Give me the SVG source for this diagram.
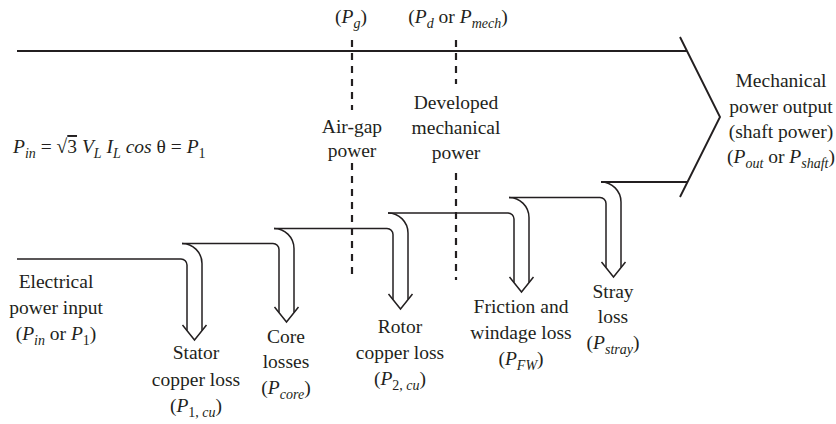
<svg xmlns="http://www.w3.org/2000/svg" width="836" height="424" viewBox="0 0 836 424">
<style>
.t{font-family:"Liberation Serif","Times New Roman",serif;font-size:19.5px;fill:#231f20;text-anchor:middle}
.l{text-anchor:start}
.i{font-style:italic}
.s{font-size:14px}
.ln{fill:none;stroke:#231f20;stroke-width:1.5}
.th{stroke-width:1.9}
.ds{fill:none;stroke:#231f20;stroke-width:2.2;stroke-dasharray:7 6}
</style>
<rect width="836" height="424" fill="#fff"/>
<g id="connectors">
  <path class="ln th" d="M17,51 H687"/>
  <path class="ln th" d="M680,37 L720,117 L680,197"/>
  <path class="ds" d="M352,40 V110 M352,163 V280"/>
  <path class="ds" d="M456,40 V84 M456,173 V280"/>
  <!-- stator -->
  <path class="ln" d="M17,259 H181 A6,6 0 0 1 187,265 V330.6"/>
  <path class="ln" d="M182,243.5 A20,20 0 0 1 202,263.5 V330.6"/>
  <path class="ln" d="M182.5,325 L194.5,340 L206.5,325"/>
  <!-- core -->
  <path class="ln" d="M182,243.5 H273 A6,6 0 0 1 279,249.5 V312.6"/>
  <path class="ln" d="M274,228.5 A20,20 0 0 1 294,248.5 V312.6"/>
  <path class="ln" d="M274.5,307 L286.5,322 L298.5,307"/>
  <!-- rotor -->
  <path class="ln" d="M274,228.5 H387 A6,6 0 0 1 393,234.5 V299.6"/>
  <path class="ln" d="M388,213 A20,20 0 0 1 408,233 V299.6"/>
  <path class="ln" d="M388.5,294 L400.5,309 L412.5,294"/>
  <!-- friction -->
  <path class="ln" d="M388,213 H508 A6,6 0 0 1 514,219 V282.6"/>
  <path class="ln" d="M509,197.5 A20,20 0 0 1 529,217.5 V282.6"/>
  <path class="ln" d="M509.5,277 L521.5,292 L533.5,277"/>
  <!-- stray -->
  <path class="ln" d="M509,197.5 H600 A6,6 0 0 1 606,203.5 V267.6"/>
  <path class="ln" d="M601,182 A20,20 0 0 1 621,202 V267.6"/>
  <path class="ln" d="M601.5,262 L613.5,277 L625.5,262"/>
  <path class="ln th" d="M601,182 H687.5"/>
</g>
<g id="pg"><text class="t" x="351" y="23">(<tspan class="i">P</tspan><tspan class="i s" dy="5">g</tspan><tspan dy="-5">)</tspan></text></g>
<g id="pd"><text class="t" x="458" y="23">(<tspan class="i">P</tspan><tspan class="i s" dy="5">d</tspan><tspan dy="-5"> or </tspan><tspan class="i">P</tspan><tspan class="i s" dy="5">mech</tspan><tspan dy="-5">)</tspan></text></g>
<g id="airgap"><text class="t" x="352" y="133">Air-gap</text><text class="t" x="352" y="157">power</text></g>
<g id="developed"><text class="t" x="456" y="109">Developed</text><text class="t" x="456" y="134">mechanical</text><text class="t" x="456" y="159">power</text></g>
<g id="output"><text class="t" x="781" y="87">Mechanical</text><text class="t" x="781" y="113">power output</text><text class="t" x="781" y="138">(shaft power)</text><text class="t" x="781" y="163">(<tspan class="i">P</tspan><tspan class="i s" dy="5">out</tspan><tspan dy="-5"> or </tspan><tspan class="i">P</tspan><tspan class="i s" dy="5">shaft</tspan><tspan dy="-5">)</tspan></text></g>
<g id="formula"><text class="t l" x="13" y="153"><tspan class="i">P</tspan><tspan class="i s" dy="5">in</tspan><tspan dy="-5"> = √</tspan><tspan text-decoration="overline">3</tspan><tspan> </tspan><tspan class="i">V</tspan><tspan class="i s" dy="5">L</tspan><tspan dy="-5"> </tspan><tspan class="i">I</tspan><tspan class="i s" dy="5">L</tspan><tspan class="i" dy="-5"> cos</tspan><tspan> θ = </tspan><tspan class="i">P</tspan><tspan class="s" dy="5">1</tspan></text></g>
<g id="input"><text class="t" x="56" y="288">Electrical</text><text class="t" x="56" y="314">power input</text><text class="t" x="56" y="340">(<tspan class="i">P</tspan><tspan class="i s" dy="5">in</tspan><tspan dy="-5"> or </tspan><tspan class="i">P</tspan><tspan class="s" dy="5">1</tspan><tspan dy="-5">)</tspan></text></g>
<g id="stator"><text class="t" x="196" y="359">Stator</text><text class="t" x="196" y="386">copper loss</text><text class="t" x="196" y="412">(<tspan class="i">P</tspan><tspan class="s" dy="5">1, </tspan><tspan class="i s">cu</tspan><tspan dy="-5">)</tspan></text></g>
<g id="core"><text class="t" x="286" y="343">Core</text><text class="t" x="286" y="368">losses</text><text class="t" x="286" y="394">(<tspan class="i">P</tspan><tspan class="i s" dy="5">core</tspan><tspan dy="-5">)</tspan></text></g>
<g id="rotor"><text class="t" x="400" y="333">Rotor</text><text class="t" x="400" y="359">copper loss</text><text class="t" x="400" y="385">(<tspan class="i">P</tspan><tspan class="s" dy="5">2, </tspan><tspan class="i s">cu</tspan><tspan dy="-5">)</tspan></text></g>
<g id="friction"><text class="t" x="521" y="313">Friction and</text><text class="t" x="521" y="339">windage loss</text><text class="t" x="521" y="365">(<tspan class="i">P</tspan><tspan class="i s" dy="5">FW</tspan><tspan dy="-5">)</tspan></text></g>
<g id="stray"><text class="t" x="613" y="298">Stray</text><text class="t" x="613" y="323">loss</text><text class="t" x="613" y="349">(<tspan class="i">P</tspan><tspan class="i s" dy="5">stray</tspan><tspan dy="-5">)</tspan></text></g>
</svg>
